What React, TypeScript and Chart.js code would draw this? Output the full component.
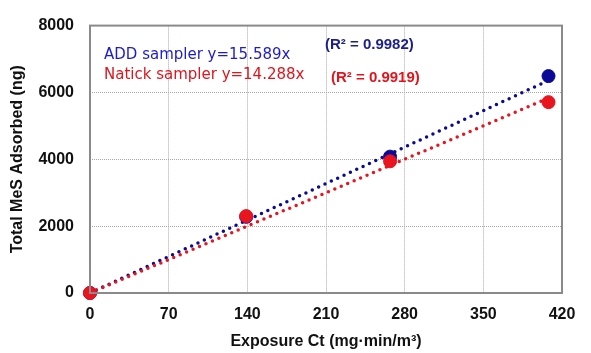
import React, { useEffect, useRef } from "react";
import { Chart, registerables } from "chart.js";

Chart.register(...registerables);

const exposureCt = [0, 139, 267, 408];
const addValues = [0, 2280, 4080, 6490];
const natickValues = [0, 2300, 3940, 5710];
const addSlope = 15.589;
const natickSlope = 14.288;
const trendX = [0, 408];
const xTicks = [0, 70, 140, 210, 280, 350, 420];
const yTicks = [0, 2000, 4000, 6000, 8000];

const BLUE = "#0a0a96";
const RED = "#e8141e";

const frameAndText = {
  id: "frameAndText",
  afterDatasetsDraw(chart: any) {
    const { ctx, chartArea } = chart;
    ctx.save();
    ctx.strokeStyle = "#8a8a8a";
    ctx.lineWidth = 2;
    ctx.setLineDash([]);
    ctx.strokeRect(chartArea.left, chartArea.top, chartArea.right - chartArea.left, chartArea.bottom - chartArea.top);
    ctx.restore();
  },
  afterDraw(chart: any) {
    const { ctx } = chart;
    ctx.save();
    ctx.textBaseline = "middle";
    ctx.textAlign = "left";
    ctx.font = "15px 'DejaVu Sans'";
    ctx.fillStyle = "#1c1ccc";
    ctx.fillText("ADD sampler y=15.589x", 104, 55);
    ctx.fillStyle = "#e0141c";
    ctx.fillText("Natick sampler y=14.288x", 104, 75);
    ctx.font = "bold 15px 'Liberation Sans'";
    ctx.fillStyle = "#1a1f8a";
    ctx.fillText("(R\u00B2 = 0.9982)", 325, 45);
    ctx.fillStyle = "#e0141c";
    ctx.fillText("(R\u00B2 = 0.9919)", 331, 78);
    ctx.restore();
  },
};

export default function App() {
  const ref = useRef<HTMLCanvasElement>(null);
  useEffect(() => {
    if (!ref.current) return;
    const chart = new Chart(ref.current, {
      type: "scatter",
      data: {
        datasets: [
          {
            label: "ADD sampler",
            data: exposureCt.map((x, i) => ({ x, y: addValues[i] })),
            backgroundColor: BLUE,
            borderColor: BLUE,
            pointRadius: 6.5,
            clip: false,
            order: 1,
          },
          {
            label: "Natick sampler",
            data: exposureCt.map((x, i) => ({ x, y: natickValues[i] })),
            backgroundColor: RED,
            borderColor: RED,
            pointRadius: 6.5,
            clip: false,
            order: 0,
          },
          {
            label: "ADD trend",
            data: trendX.map((x) => ({ x, y: x * addSlope })),
            showLine: true,
            borderColor: BLUE,
            borderWidth: 3.5,
            borderDash: [0, 7],
            borderCapStyle: "round",
            pointRadius: 0,
            order: 3,
          },
          {
            label: "Natick trend",
            data: trendX.map((x) => ({ x, y: x * natickSlope })),
            showLine: true,
            borderColor: RED,
            borderWidth: 3.5,
            borderDash: [0, 7],
            borderCapStyle: "round",
            pointRadius: 0,
            order: 2,
          },
        ],
      },
      options: {
        animation: false,
        responsive: false,
        layout: { padding: { top: 17, right: 29, bottom: 2, left: 8 } },
        plugins: { legend: { display: false }, tooltip: { enabled: false } },
        scales: {
          x: {
            type: "linear",
            min: 0,
            max: 420,
            afterBuildTicks: (s: any) => { s.ticks = xTicks.map((v) => ({ value: v })); },
            ticks: { color: "#111", font: { family: "'Liberation Sans'", size: 16, weight: "bold" }, padding: 12, callback: (v: any) => String(v) },
            grid: { color: "#a8a8a8", lineWidth: 1, drawTicks: false } as any,
            border: { display: false, dash: [1, 1] },
            title: { display: true, text: "Exposure Ct (mg\u00B7min/m\u00B3)", color: "#111", font: { family: "'Liberation Sans'", size: 16, weight: "bold" }, padding: { top: 6, bottom: 0 } },
            afterFit: (s: any) => { s.height = 58; },
          },
          y: {
            type: "linear",
            min: 0,
            max: 8000,
            afterBuildTicks: (s: any) => { s.ticks = yTicks.map((v) => ({ value: v })); },
            ticks: { color: "#111", font: { family: "'Liberation Sans'", size: 16, weight: "bold" }, padding: 16, callback: (v: any) => String(v) },
            grid: { color: "#a8a8a8", lineWidth: 1, drawTicks: false } as any,
            border: { display: false, dash: [1, 1] },
            title: { display: true, text: "Total MeS Adsorbed (ng)", color: "#111", font: { family: "'Liberation Sans'", size: 16, weight: "bold" }, padding: { top: 0, bottom: 0 } },
            afterFit: (s: any) => { s.width = 82; },
          },
        },
      } as any,
      plugins: [frameAndText],
    });
    return () => chart.destroy();
  }, []);
  return (
    <div style={{ position: "absolute", left: 0, top: 0, width: 591, height: 353, background: "#fff" }}>
      <canvas ref={ref} width={591} height={353} style={{ width: 591, height: 353 }} />
    </div>
  );
}
